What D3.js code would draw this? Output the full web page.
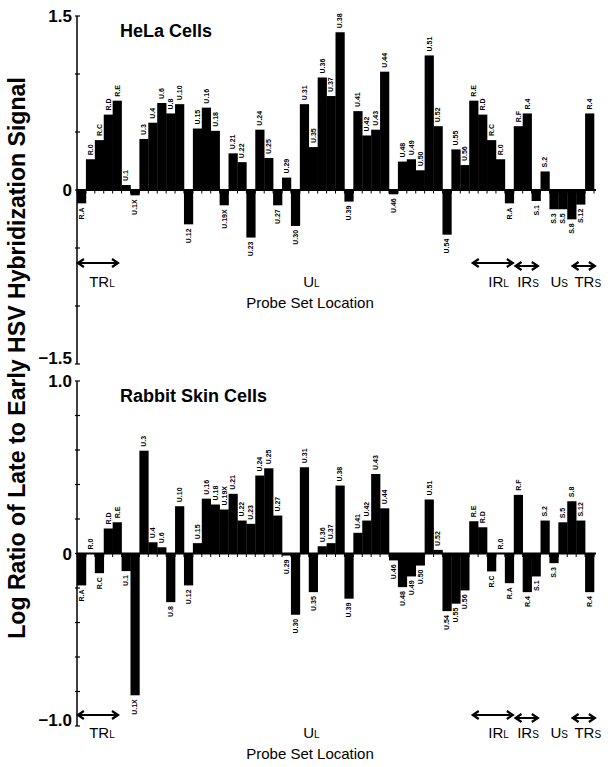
<!DOCTYPE html>
<html>
<head>
<meta charset="utf-8">
<script src="https://cdn.jsdelivr.net/npm/d3@7"></script>
<style>
  body { margin: 0; background: #fff; }
  svg { font-family: 'Liberation Sans', Arial, Helvetica, sans-serif; }
</style>
</head>
<body>
<div id="graf"></div>
<script>
// probe sets along the genome (same order in both panels)
const probes = ['R.A','R.0','R.C','R.D','R.E','U.1','U.1X','U.3','U.4','U.6','U.8','U.10','U.12',
  'U.15','U.16','U.18','U.19X','U.21','U.22','U.23','U.24','U.25','U.27','U.29','U.30','U.31',
  'U.35','U.36','U.37','U.38','U.39','U.41','U.42','U.43','U.44','U.46','U.48','U.49','U.50',
  'U.51','U.52','U.54','U.55','U.56','R.E','R.D','R.C','R.0','R.A','R.F','R.4','S.1','S.2',
  'S.3','S.5','S.8','S.12','R.4']

const helaValues = [-0.115, 0.265, 0.43, 0.65, 0.77, 0.043, -0.046, 0.44, 0.58, 0.75, 0.66, 0.74, -0.296,
  0.53, 0.71, 0.51, -0.132, 0.316, 0.24, -0.41, 0.52, 0.276, -0.132, 0.107, -0.31, 0.74,
  0.37, 0.97, 0.81, 1.36, -0.1, 0.68, 0.47, 0.52, 1.02, -0.037, 0.245, 0.265, 0.17,
  1.16, 0.55, -0.385, 0.35, 0.215, 0.77, 0.65, 0.43, 0.265, -0.115, 0.55, 0.66, -0.095, 0.16,
  -0.166, -0.166, -0.253, -0.126, 0.66]

const rabbitValues = [-0.185, 0, -0.114, 0.145, 0.181, -0.102, -0.822, 0.596, 0.065, 0.036, -0.282, 0.274, -0.185,
  0.06, 0.318, 0.284, 0.255, 0.346, 0.191, 0.172, 0.452, 0.494, 0.22, -0.012, -0.355, 0.5,
  -0.224, 0.042, 0.06, 0.394, -0.262, 0.12, 0.191, 0.461, 0.262, -0.04, -0.195, -0.133, -0.07,
  0.313, 0.021, -0.334, -0.291, -0.214, 0.187, 0.152, -0.104, 0, -0.172, 0.34, -0.224, -0.133, 0.191,
  -0.056, 0.181, 0.303, 0.191, -0.224]

// genome regions: [start, end] in probe-slot units, label centre
const regionNames = ['TR', 'U', 'IR', 'IR', 'U', 'TR']
const regionSubs = ['L', 'L', 'L', 'S', 'S', 'S']
const regionSpans = [[0.1, 4.6], null, [44.4, 48.9], [49.2, 51.7], null, [55.6, 58.1]]
const regionCenters = [2.8, 26.3, 47.3, 50.6, 54.1, 57.3]

const anchoTotal = 608
const altoTotal = 767

const svg = d3.select('#graf')
  .append('svg')
  .attr('width', anchoTotal)
  .attr('height', altoTotal)

const x = d3.scaleBand()
  .domain(d3.range(probes.length))
  .range([77, 594])
  .padding(0)

const xi = d3.scaleLinear()
  .domain([0, probes.length])
  .range([77, 594])

const panels = [
  { title: 'HeLa Cells', values: helaValues, domain: [-1.5, 1.5], range: [364, 16], step: 0.5,
    fmt: d => d === 0 ? '0' : d3.format('.1f')(d), arrowY: 263, textY: 287, labelY: 308 },
  { title: 'Rabbit Skin Cells', values: rabbitValues, domain: [-1, 1], range: [726, 381], step: 0.2,
    fmt: d => d === 0 ? '0' : d3.format('.1f')(d), arrowY: 715, textY: 738, labelY: 759 }
]

panels.forEach(p => {
  const y = d3.scaleLinear().domain(p.domain).range(p.range)
  const g = svg.append('g')

  // y axis line + ticks
  const ticks = d3.range(p.domain[0], p.domain[1] + p.step / 2, p.step)
  g.append('line')
    .attr('x1', 77).attr('x2', 77)
    .attr('y1', y(p.domain[0])).attr('y2', y(p.domain[1]))
    .attr('stroke', '#000').attr('stroke-width', 1.5)
  g.selectAll('.ytick').data(ticks).enter()
    .append('line')
      .attr('x1', 75).attr('x2', 80)
      .attr('y1', d => y(d)).attr('y2', d => y(d))
      .attr('stroke', '#000').attr('stroke-width', 1.2)

  // bottom label sits on its tick, others centred
  g.selectAll('.ylab').data([p.domain[0], 0, p.domain[1]]).enter()
    .append('text')
      .attr('x', 72)
      .attr('y', d => y(d))
      .attr('dy', d => d === p.domain[0] ? '0.02em' : '0.36em')
      .attr('text-anchor', 'end')
      .attr('font-size', 17)
      .attr('font-weight', 'bold')
      .text(p.fmt)

  // bars
  g.selectAll('rect').data(p.values).enter()
    .append('rect')
      .attr('x', (d, i) => x(i))
      .attr('width', x.bandwidth() + 0.3)
      .attr('y', d => y(Math.max(0, d)))
      .attr('height', d => Math.abs(y(d) - y(0)))
      .attr('fill', '#000')

  // zero line with small ticks
  g.append('line')
    .attr('x1', 77).attr('x2', 596)
    .attr('y1', y(0)).attr('y2', y(0))
    .attr('stroke', '#000').attr('stroke-width', 2)
  g.selectAll('.xtick').data(d3.range(probes.length + 1)).enter()
    .append('line')
      .attr('x1', i => xi(i)).attr('x2', i => xi(i))
      .attr('y1', y(0)).attr('y2', y(0) + 3.5)
      .attr('stroke', '#000').attr('stroke-width', 1)

  // probe labels, rotated
  g.selectAll('.plab').data(p.values).enter()
    .append('text')
      .attr('transform', (d, i) => {
        const cx = x(i) + x.bandwidth() / 2
        const yy = d >= 0 ? y(d) - 4 : y(d) + 4
        return `translate(${cx}, ${yy}) rotate(-90)`
      })
      .attr('dy', '0.35em')
      .attr('text-anchor', d => d >= 0 ? 'start' : 'end')
      .attr('font-size', 7)
      .attr('font-weight', 'bold')
      .text((d, i) => probes[i])

  // title
  g.append('text')
    .attr('x', 120)
    .attr('y', p.range[1] + 21)
    .attr('font-size', 18)
    .attr('font-weight', 'bold')
    .text(p.title)

  // region arrows
  regionSpans.forEach((s, k) => {
    if (!s) return
    const ay = p.arrowY + (k === 0 || k === 2 ? 0 : 3)
    const x0 = xi(s[0]), x1 = xi(s[1])
    g.append('path')
      .attr('d', `M${x0},${ay}L${x1},${ay}M${x0 + 6},${ay - 4}L${x0},${ay}L${x0 + 6},${ay + 4}` +
        `M${x1 - 6},${ay - 4}L${x1},${ay}L${x1 - 6},${ay + 4}`)
      .attr('fill', 'none')
      .attr('stroke', '#000')
      .attr('stroke-width', 2.2)
  })

  const rt = g.selectAll('.reg').data(regionNames).enter()
    .append('text')
      .attr('x', (d, k) => xi(regionCenters[k]))
      .attr('y', p.textY)
      .attr('text-anchor', 'middle')
      .attr('font-size', 15)
  rt.append('tspan').text(d => d)
  rt.append('tspan').attr('font-size', 10).text((d, k) => regionSubs[k])

  g.append('text')
    .attr('x', 310)
    .attr('y', p.labelY)
    .attr('text-anchor', 'middle')
    .attr('font-size', 15)
    .text('Probe Set Location')
})

// shared y title
const yt = svg.append('text')
  .attr('transform', 'translate(25, 358) rotate(-90)')
  .attr('text-anchor', 'middle')
  .attr('font-size', 18)
  .attr('font-weight', 'bold')
  .text('Log Ratio of Late to Early HSV Hybridization Signal')
const len = yt.node().getComputedTextLength()
yt.attr('font-size', 18 * 562 / len)
</script>
</body>
</html>
